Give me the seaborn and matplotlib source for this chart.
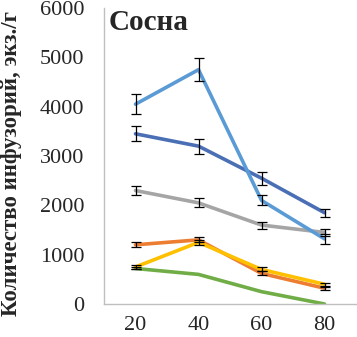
import matplotlib
matplotlib.use("Agg")
import matplotlib.pyplot as plt
import seaborn as sns
import pandas as pd
import numpy as np

categories = ["20", "40", "60", "80"]
series_names = ["s1", "s2", "s3", "s4", "s5", "s6"]
light_blue = [4050, 4750, 2100, 1320]
light_blue_err = [200, 230, 100, 100]
dark_blue = [3450, 3200, 2550, 1850]
dark_blue_err = [150, 150, 130, 80]
gray = [2300, 2050, 1600, 1450]
gray_err = [100, 90, 70, 70]
orange = [1200, 1300, 620, 320]
orange_err = [50, 50, 40, 30]
yellow = [750, 1250, 700, 400]
yellow_err = [50, 50, 40, 30]
green = [720, 600, 250, 0]
green_err = [20, 0, 0, 0]

colors = ["#4a6fb5", "#5b9bd5", "#a5a5a5", "#ed7d31", "#ffc000", "#70ad47"]
values = [dark_blue, light_blue, gray, orange, yellow, green]
errors = [dark_blue_err, light_blue_err, gray_err, orange_err, yellow_err, green_err]

rows = []
for name, vals in zip(series_names, values):
    for i, (c, v) in enumerate(zip(categories, vals)):
        rows.append({"series": name, "pos": i, "cat": c, "value": v})
df = pd.DataFrame(rows)

sns.set_style("white")
plt.rcParams["font.family"] = ["Liberation Serif", "DejaVu Serif"]

fig = plt.figure(figsize=(3.57, 3.37), dpi=100)
ax = fig.add_axes([104/357, 1-304/337, 252/357, 296/337])

order = ["s6", "s3", "s4", "s5", "s1", "s2"]
for name in order:
    idx = series_names.index(name)
    sub = df[df.series == name]
    sns.lineplot(data=sub, x="pos", y="value", color=colors[idx], lw=2.6,
                 ax=ax, legend=False, errorbar=None)
    errs = np.array(errors[idx])
    mask = errs > 0
    ax.errorbar(sub["pos"].values[mask], sub["value"].values[mask], yerr=errs[mask],
                fmt="none", ecolor="black", elinewidth=0.9, capsize=3.5, capthick=0.9, zorder=5)

ax.set_xlim(-0.5, 3.5)
ax.set_ylim(0, 6000)
ax.set_yticks(np.arange(0, 6001, 1000))
ax.set_xticks(range(len(categories)))
ax.set_xticklabels(categories)
ax.set_xticks(np.arange(-0.5, 3.6, 1), minor=True)
ax.tick_params(axis="x", which="major", length=0, labelsize=16, pad=9)
ax.tick_params(axis="x", which="minor", length=6, color="#bfbfbf", width=1, direction="out")
ax.tick_params(axis="y", which="major", length=0, labelsize=16, pad=14)
ax.set_xlabel("")
ax.set_ylabel("Количество инфузорий, экз./г", fontsize=16.5, fontweight="bold")
ax.yaxis.set_label_coords(-82/252, 0.475)
for s in ["top", "right"]:
    ax.spines[s].set_visible(False)
for s in ["left", "bottom"]:
    ax.spines[s].set_color("#bfbfbf")
    ax.spines[s].set_linewidth(1)
ax.text(0.02, 0.995, "Сосна", transform=ax.transAxes, fontsize=21, fontweight="bold",
        va="top", ha="left")

fig.savefig("out.png", dpi=100)
